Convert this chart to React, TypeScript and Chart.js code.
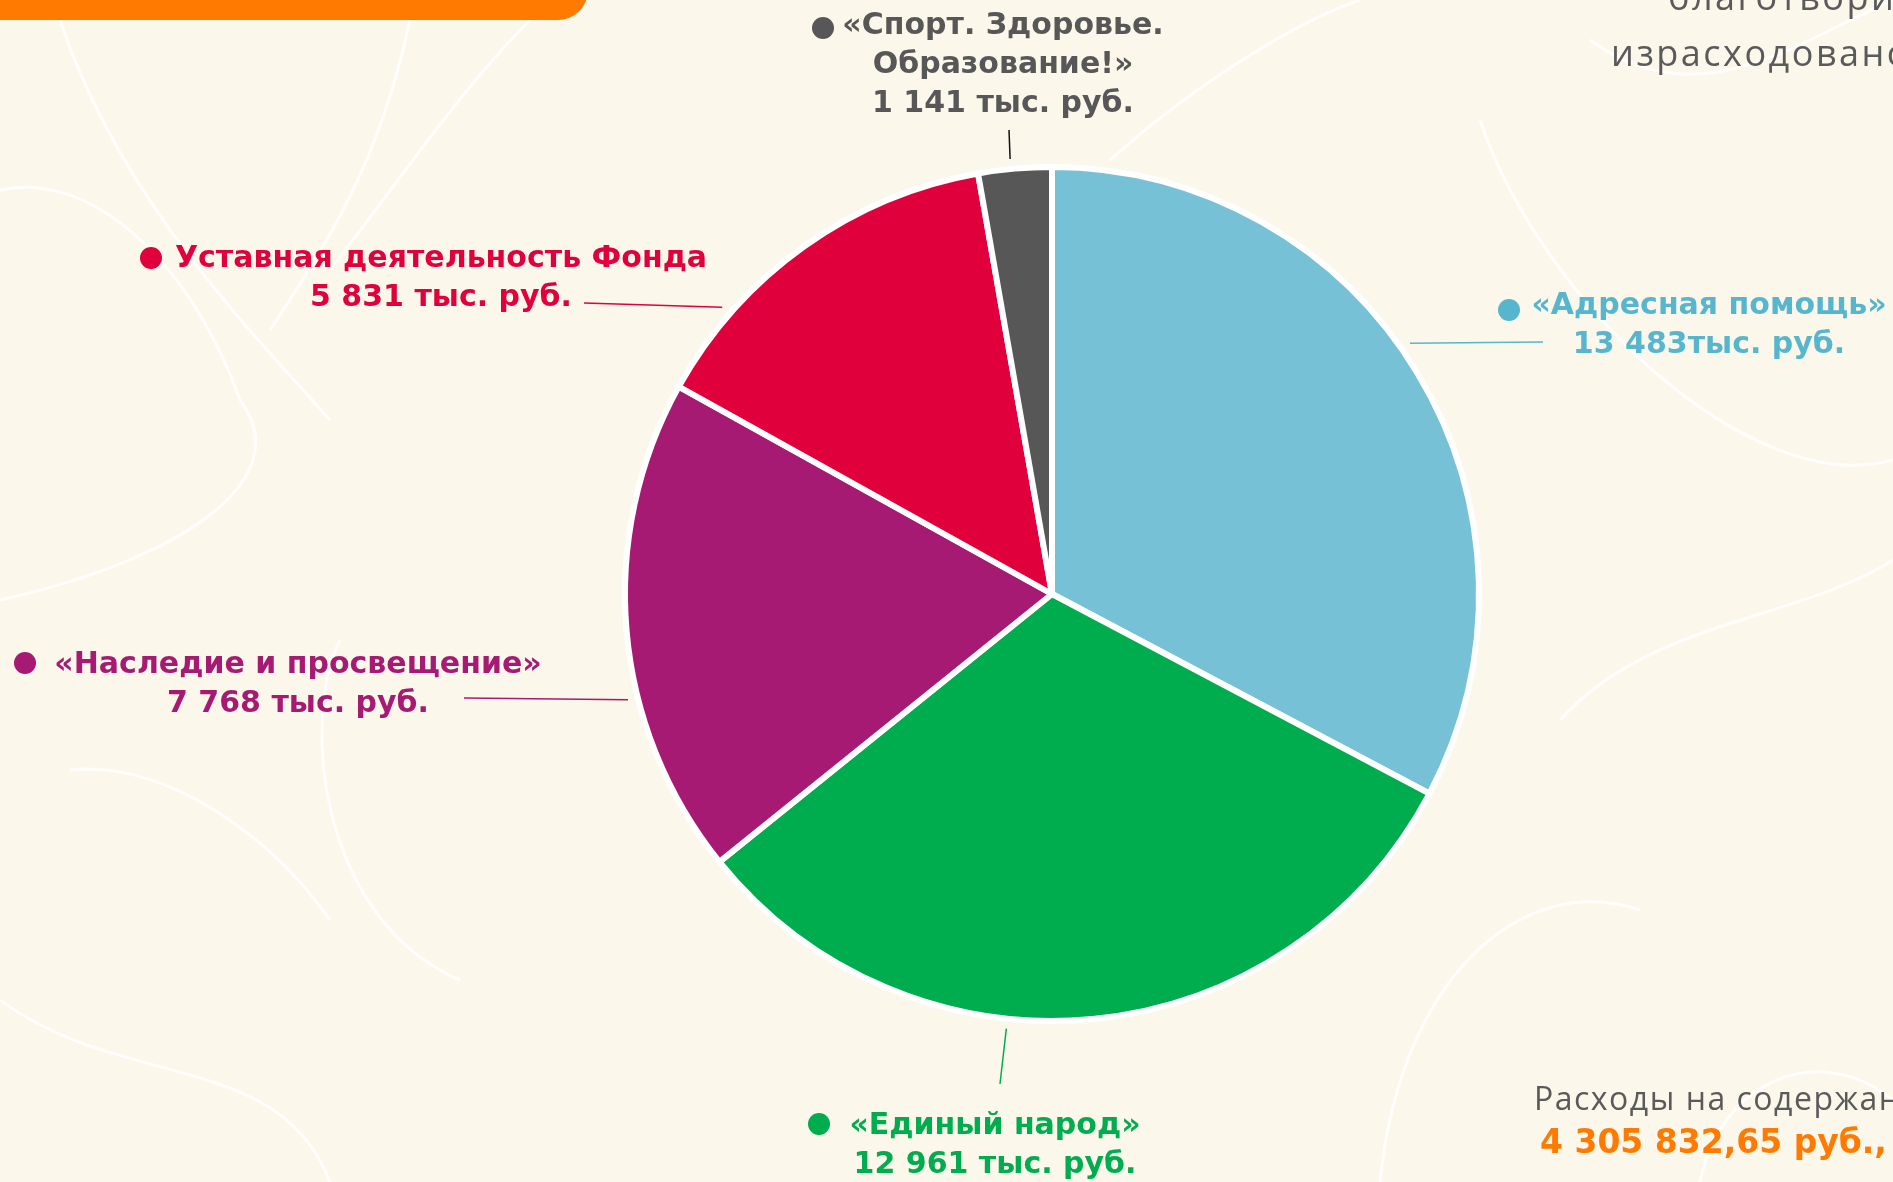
import React, { useEffect, useRef } from "react";
import { Chart, registerables } from "chart.js";

Chart.register(...registerables);

// ---- data ----
const categories = [
  "«Адресная помощь»",
  "«Единый народ»",
  "«Наследие и просвещение»",
  "Уставная деятельность Фонда",
  "«Спорт. Здоровье. Образование!»",
];
const values = [13483, 12961, 7768, 5831, 1141];
const valueLabels = [
  "13 483тыс. руб.",
  "12 961 тыс. руб.",
  "7 768 тыс. руб.",
  "5 831 тыс. руб.",
  "1 141 тыс. руб.",
];
const nameLines = [
  ["«Адресная помощь»"],
  ["«Единый народ»"],
  ["«Наследие и просвещение»"],
  ["Уставная деятельность Фонда"],
  ["«Спорт. Здоровье.", "Образование!»"],
];
const sliceColors = ["#77c1d6", "#00ad4e", "#a61a74", "#e0003c", "#575757"];
const labelColors = ["#56b6cd", "#00ad4e", "#a61a74", "#e0003c", "#575757"];
const lineColors = ["#56b6cd", "#00ad4e", "#a61a74", "#e0003c", "#111111"];

const sideTopLines = ["благотворительные", "израсходовано"];
const sideBottomTitle = "Расходы на содержание";
const sideBottomValue = "4 305 832,65 руб.,";

// ---- layout (positions only) ----
const W = 1893;
const H = 1182;
const labelLayout = [
  { cx: 1709, y0: 306, dot: [1509, 310], ang: 55, end: [1543, 342] },
  { cx: 995, y0: 1126, dot: [819, 1124], ang: 186, end: [1000, 1084] },
  { cx: 298, y0: 665, dot: [25, 663], ang: 256, end: [464, 698] },
  { cx: 441, y0: 259, dot: [151, 258], ang: 311, end: [584, 303] },
  { cx: 1003, y0: 26, dot: [823, 28], ang: 354.5, end: [1009, 130] },
];
const LINE_H = 39;

const bgPlugin = {
  id: "bgDeco",
  beforeDraw(chart: any) {
    const ctx = chart.ctx as CanvasRenderingContext2D;
    ctx.save();
    ctx.fillStyle = "#fcf7eb";
    ctx.fillRect(0, 0, W, H);

    // faint decorative outlines
    ctx.strokeStyle = "rgba(255,255,255,0.85)";
    ctx.lineWidth = 3;
    const curves: number[][] = [
      [60, 20, 120, 200, 250, 330, 330, 420],
      [410, 20, 380, 160, 330, 240, 270, 330],
      [530, 20, 460, 90, 400, 180, 330, 270],
      [0, 190, 90, 170, 190, 260, 240, 400],
      [240, 400, 300, 480, 180, 560, 0, 600],
      [340, 640, 300, 720, 320, 920, 460, 980],
      [70, 770, 150, 760, 260, 820, 330, 920],
      [0, 1000, 120, 1090, 280, 1050, 330, 1182],
      [1480, 120, 1540, 300, 1750, 500, 1893, 460],
      [1560, 720, 1650, 620, 1800, 620, 1893, 560],
      [1380, 1182, 1400, 980, 1520, 870, 1640, 910],
      [1700, 1182, 1720, 1080, 1820, 1040, 1893, 1100],
      [1590, 40, 1700, 120, 1800, 40, 1893, 0],
      [1110, 160, 1200, 80, 1300, 20, 1360, 0],
    ];
    curves.forEach((c) => {
      ctx.beginPath();
      ctx.moveTo(c[0], c[1]);
      ctx.bezierCurveTo(c[2], c[3], c[4], c[5], c[6], c[7]);
      ctx.stroke();
    });

    // orange top bar
    ctx.fillStyle = "#ff7a00";
    ctx.beginPath();
    (ctx as any).roundRect(-60, -40, 648, 60, 42);
    ctx.fill();

    // side texts
    ctx.fillStyle = "#5a5a5a";
    ctx.textAlign = "left";
    ctx.textBaseline = "alphabetic";
    (ctx as any).letterSpacing = "2.5px";
    ctx.font = '400 36px "Open Sans"';
    ctx.fillText(sideTopLines[0], 1668, 10);
    ctx.fillText(sideTopLines[1], 1611, 66);
    (ctx as any).letterSpacing = "1.5px";
    ctx.font = '400 32px "Open Sans"';
    ctx.fillText(sideBottomTitle, 1534, 1110);
    (ctx as any).letterSpacing = "0px";
    ctx.fillStyle = "#ff7a00";
    ctx.font = 'bold 33px "DejaVu Sans"';
    ctx.fillText(sideBottomValue, 1540, 1153);
    ctx.restore();
  },
};

const labelPlugin = {
  id: "sliceLabels",
  afterDraw(chart: any) {
    const ctx = chart.ctx as CanvasRenderingContext2D;
    const meta = chart.getDatasetMeta(0);
    const arc0 = meta.data[0] as any;
    const cx = arc0.x;
    const cy = arc0.y;
    const r = arc0.outerRadius;
    ctx.save();
    labelLayout.forEach((L, i) => {
      // leader line
      const a = ((L.ang - 90) * Math.PI) / 180;
      const sx = cx + Math.cos(a) * (r + 10);
      const sy = cy + Math.sin(a) * (r + 10);
      ctx.strokeStyle = lineColors[i];
      ctx.lineWidth = 1.5;
      ctx.beginPath();
      ctx.moveTo(sx, sy);
      ctx.lineTo(L.end[0], L.end[1]);
      ctx.stroke();

      // dot
      ctx.fillStyle = labelColors[i];
      ctx.beginPath();
      ctx.arc(L.dot[0], L.dot[1], 11, 0, Math.PI * 2);
      ctx.fill();

      // text
      ctx.font = 'bold 30px "DejaVu Sans"';
      ctx.textAlign = "center";
      ctx.textBaseline = "middle";
      const lines = [...nameLines[i], valueLabels[i]];
      lines.forEach((t, k) => {
        ctx.fillText(t, L.cx, L.y0 + k * LINE_H);
      });
    });
    ctx.restore();
  },
};

export default function App() {
  const ref = useRef<HTMLCanvasElement | null>(null);
  useEffect(() => {
    if (!ref.current) return;
    const chart = new Chart(ref.current, {
      type: "pie",
      data: {
        labels: categories,
        datasets: [
          {
            data: values,
            backgroundColor: sliceColors,
            borderColor: "#ffffff",
            borderWidth: 6,
          },
        ],
      },
      options: {
        responsive: false,
        animation: false,
        radius: 427,
        layout: { padding: { left: 300, right: 89, top: 60, bottom: 54 } },
        plugins: {
          legend: { display: false },
          tooltip: { enabled: false },
        },
      } as any,
      plugins: [bgPlugin, labelPlugin],
    });
    return () => chart.destroy();
  }, []);
  return (
    <div style={{ position: "fixed", left: 0, top: 0, width: W, height: H, overflow: "hidden" }}>
      <canvas ref={ref} width={W} height={H} style={{ width: W, height: H, display: "block" }} />
    </div>
  );
}
